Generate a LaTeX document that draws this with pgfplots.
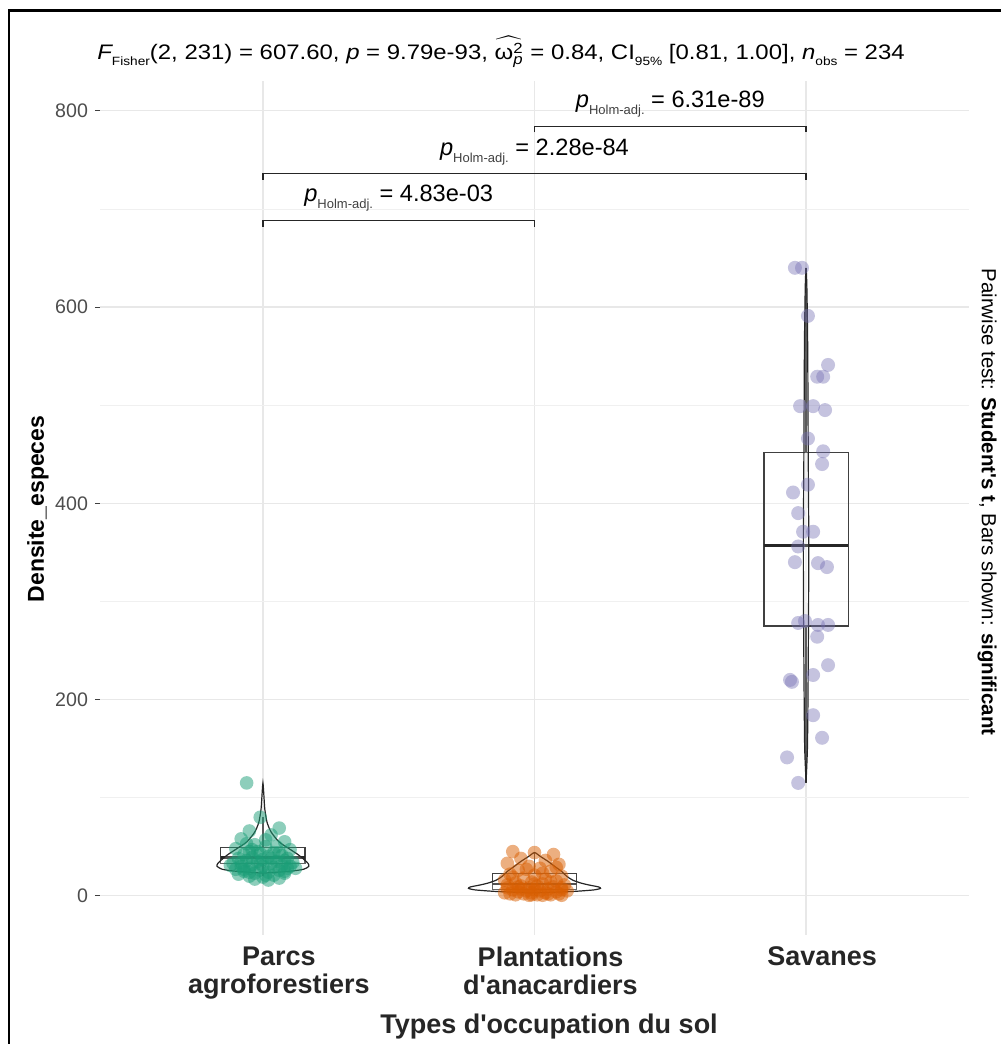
\documentclass[border=0pt]{standalone}
\usepackage{fontspec}
\setmainfont{Liberation Sans}
\usepackage{amsmath}
\usepackage{graphicx}
\usepackage{pgfplots}
\pgfplotsset{compat=1.18}
\usepgfplotslibrary{statistics}
\definecolor{cgreen}{HTML}{1B9E77}
\definecolor{corange}{HTML}{D95F02}
\definecolor{cpurple}{HTML}{7570B3}
\definecolor{tickgrey}{HTML}{4D4D4D}
\newcommand{\tsub}[1]{\raisebox{-0.55ex}{\fontsize{6}{6}\selectfont #1}}
\newcommand{\bsub}[1]{\raisebox{-0.55ex}{\color{black!75}\fontsize{6.5}{7}\selectfont #1}}

\pgfplotstableread{
x y
0.94 115
0.99 80
0.95 66
1.06 69
1.03 62
0.92 58
1.08 55
0.97 52
1.01 50
0.90 48
1.10 47
0.95 45
1.04 44
0.99 43
0.93 42
1.07 41
1.02 40
0.96 39
0.91 38
1.09 38
1.00 37
0.94 36
1.05 35
0.98 35
1.11 34
0.89 33
1.03 33
0.96 32
1.07 31
0.92 30
1.00 30
1.04 29
0.95 28
1.09 28
0.90 27
0.99 26
1.06 26
0.93 25
1.02 24
0.97 23
1.08 23
0.91 22
1.04 21
0.95 20
1.00 19
1.06 18
0.97 17
1.02 16
0.93 27
1.10 30
0.98 45
1.05 50
0.94 53
1.01 57
1.08 36
0.88 31
1.12 28
0.96 47
1.03 38
0.92 34
0.99 33
1.06 44
0.95 24
1.01 21
1.08 25
}\parcs

\pgfplotstableread{
x y
1.92 45
2.07 42
2.00 44
1.95 38
2.04 36
1.90 33
2.09 32
1.98 30
2.02 28
1.94 26
2.06 25
1.91 22
2.00 21
2.10 20
1.96 18
2.04 17
1.89 16
2.08 15
1.99 14
1.93 13
2.03 12
2.11 11
1.95 10
2.01 10
2.07 9
1.90 8
1.98 8
2.05 7
2.10 6
1.92 6
1.97 5
2.02 5
2.08 4
1.94 4
1.99 3
2.04 3
1.91 2
2.09 2
1.96 2
2.01 1
2.06 1
1.93 1
1.98 0.5
2.03 0.5
2.10 0.5
1.89 3
2.12 5
1.95 7
2.00 12
2.06 14
1.92 19
2.03 23
1.97 27
2.08 29
1.94 9
2.00 6
2.05 2
1.99 1
2.10 8
1.90 11
}\plantations

\pgfplotstableread{
x y
2.959 640
2.985 640
3.007 591
3.081 541
3.041 529
3.063 529
2.978 499
3.026 499
3.070 495
3.007 466
3.063 453
3.059 440
3.007 419
2.952 411
2.971 390
3.026 371
2.989 371
2.971 356
2.959 340
3.044 339
3.077 335
2.971 278
3.044 276
3.081 276
2.996 280
3.041 264
3.081 235
3.026 225
2.948 218
2.941 220
3.026 184
3.059 161
2.930 141
2.971 115
}\savanes

\begin{document}
\begin{tikzpicture}
\path[use as bounding box] (0,0) rectangle (500.5pt,522pt);
\begin{axis}[
  at={(50pt,54.5pt)}, anchor=south west,
  width=434.5pt, height=426.8pt, scale only axis,
  xmin=0.4, xmax=3.6, ymin=-40, ymax=830,
  axis line style={draw=none},
  xtick={1,2,3},
  xticklabels={{Parcs\\agroforestiers},{Plantations\\d\textquotesingle anacardiers},{Savanes}},
  xticklabel style={align=center, font=\fontsize{13.5}{14}\selectfont\bfseries, text=black!85, xshift=8pt},
  x tick style={draw=none},
  ytick={0,200,400,600,800},
  minor ytick={100,300,500,700},
  ytick pos=left,
  y tick style={draw=black!75, line width=0.5pt},
  tick align=outside, major tick length=2.5pt, minor tick length=0pt,
  yticklabel style={font=\fontsize{9.8}{11}\selectfont, text=tickgrey},
  xmajorgrids, ymajorgrids, yminorgrids,
  major grid style={black!9, line width=0.6pt},
  minor grid style={black!6, line width=0.4pt},
  /pgf/number format/assume math mode=true,
  clip=false,
  boxplot/draw direction=y,
  boxplot/every whisker/.style={line width=0.9pt, draw=black!80},
  boxplot/every median/.style={line width=1.2pt, draw=black!85},
]
% jittered points
\addplot[only marks, mark=*, mark size=3.4pt, mark options={draw opacity=0, fill=cgreen, fill opacity=0.5}] table[x=x,y=y] {\parcs};
\addplot[only marks, mark=*, mark size=3.4pt, mark options={draw opacity=0, fill=corange, fill opacity=0.5}] table[x=x,y=y] {\plantations};
\addplot[only marks, mark=*, mark size=3.5pt, mark options={draw opacity=0, fill=cpurple, fill opacity=0.42}] table[x=x,y=y] {\savanes};
% boxplots
\addplot[boxplot prepared={draw position=1, lower whisker=20, lower quartile=33, median=39, upper quartile=49, upper whisker=80, box extend=0.31, whisker extend=0}, draw=black!75, fill=white, fill opacity=0.25, line width=0.6pt] coordinates {};
\addplot[boxplot prepared={draw position=2, lower whisker=0.5, lower quartile=6, median=12, upper quartile=23, upper whisker=44, box extend=0.31, whisker extend=0}, draw=black!75, fill=white, fill opacity=0.25, line width=0.6pt] coordinates {};
\addplot[boxplot prepared={draw position=3, lower whisker=115, lower quartile=275, median=357, upper quartile=452, upper whisker=640, box extend=0.31, whisker extend=0}, draw=black!75, fill=white, fill opacity=0.25, line width=0.6pt] coordinates {};
% violins
\addplot[draw=black!85, line width=0.6pt, fill=white, fill opacity=0.2, smooth, tension=0.4] coordinates {
(1,23) (0.90,25) (0.85,27) (0.831,30) (0.834,33) (0.849,37) (0.871,42) (0.904,48) (0.941,55) (0.970,65) (0.985,75) (0.993,88) (0.996,100) (1,115)
(1.004,100) (1.007,88) (1.015,75) (1.030,65) (1.059,55) (1.096,48) (1.129,42) (1.151,37) (1.166,33) (1.169,30) (1.15,27) (1.10,25) (1,23)};
\addplot[draw=black!85, line width=0.6pt, fill=white, fill opacity=0.2, smooth, tension=0.4] coordinates {
(2,3) (1.94,3.5) (1.85,4.5) (1.78,6) (1.757,7.5) (1.764,9) (1.80,11) (1.83,13) (1.86,16) (1.882,20) (1.901,25) (1.926,30) (1.95,35) (1.978,40) (2,44)
(2.022,40) (2.05,35) (2.074,30) (2.099,25) (2.118,20) (2.14,16) (2.17,13) (2.20,11) (2.236,9) (2.243,7.5) (2.22,6) (2.15,4.5) (2.06,3.5) (2,3)};
\addplot[draw=black!85, line width=0.6pt, fill=white, fill opacity=0.2, smooth, tension=0.4] coordinates {
(3,116) (2.995,150) (2.993,200) (2.991,280) (2.990,360) (2.992,450) (2.994,560) (2.997,620) (3,640)
(3.003,620) (3.006,560) (3.008,450) (3.010,360) (3.009,280) (3.007,200) (3.005,150) (3,116)};
% pairwise brackets
\addplot[black!85, line width=0.7pt] coordinates {(1,682) (1,688) (2,688) (2,682)};
\addplot[black!85, line width=0.7pt] coordinates {(1,730) (1,736) (3,736) (3,730)};
\addplot[black!85, line width=0.7pt] coordinates {(2,778) (2,784) (3,784) (3,778)};
\node[font=\fontsize{11.8}{12}\selectfont] at (axis cs:1.5,711) {{\itshape p}\bsub{Holm-adj.} = 4.83e-03};
\node[font=\fontsize{11.8}{12}\selectfont] at (axis cs:2,758) {{\itshape p}\bsub{Holm-adj.} = 2.28e-84};
\node[font=\fontsize{11.8}{12}\selectfont] at (axis cs:2.5,807) {{\itshape p}\bsub{Holm-adj.} = 6.31e-89};
\end{axis}
% frame
\draw[black, line width=1.4pt] (4.5pt,0) -- (4.5pt,516.75pt) -- (500.5pt,516.75pt);
% title
\node[font=\fontsize{10.5}{11}\selectfont] at (250.5pt,496pt) {\scalebox{1.14}[1]{{\itshape F}\tsub{Fisher}(2, 231) = 607.60, {\itshape p} = 9.79e-93, $\widehat{\text{ω}^{\text{2}}_{\text{\itshape p}}}$ = 0.84, CI\tsub{95\%} [0.81, 1.00], {\itshape n}\tsub{obs} = 234}};
% y label
\node[font=\fontsize{11.5}{12}\selectfont\bfseries, rotate=90] at (19pt,267.5pt) {Densite\_especes};
% x title
\node[font=\fontsize{13.5}{14}\selectfont\bfseries, text=black!85] at (274.5pt,8.5pt) {Types d\textquotesingle occupation du sol};
% right caption
\node[font=\fontsize{10.2}{11}\selectfont, rotate=-90] at (493.5pt,271pt) {Pairwise test: \textbf{Student\textquotesingle s t}, Bars shown: \textbf{significant}};
\end{tikzpicture}
\end{document}
